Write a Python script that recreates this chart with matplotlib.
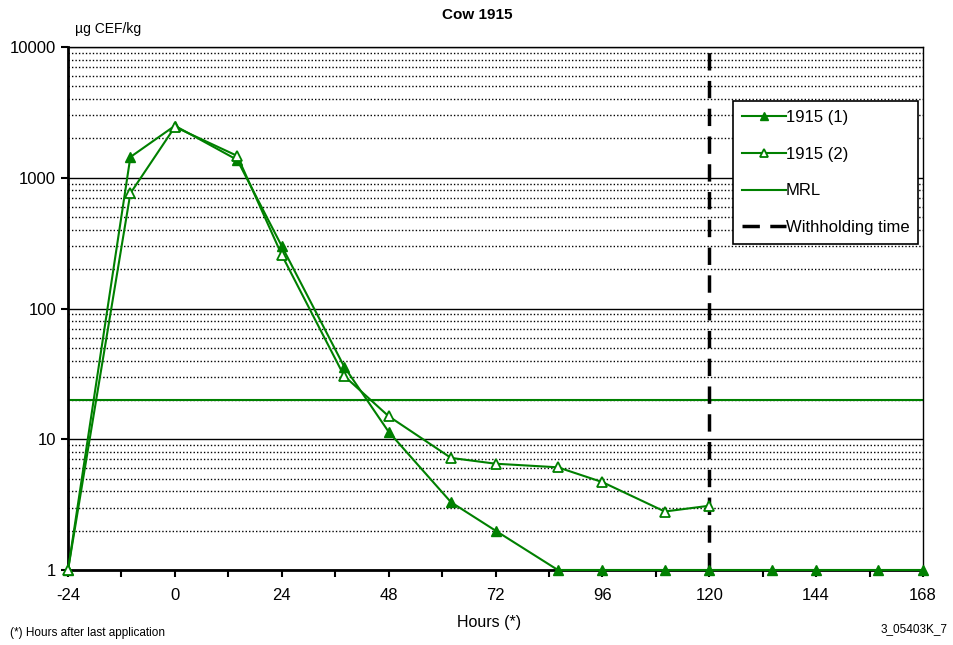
import matplotlib
matplotlib.use('Agg')
import matplotlib.pyplot as plt
from matplotlib.ticker import LogLocator, FixedLocator, NullFormatter

plt.rcParams['font.family'] = ['Liberation Sans', 'DejaVu Sans']
plt.rcParams['axes.unicode_minus'] = False

# hours after last application
hours1 = [-24, -10, 0, 14, 24, 38, 48, 62, 72, 86, 96, 110, 120, 134, 144, 158, 168]
conc1 = [1, 1440, 2500, 1370, 300, 36, 11.4, 3.3, 2.0, 1, 1, 1, 1, 1, 1, 1, 1]
hours2 = [-24, -10, 0, 14, 24, 38, 48, 62, 72, 86, 96, 110, 120]
conc2 = [1, 760, 2450, 1470, 257, 30.5, 15, 7.2, 6.5, 6.1, 4.7, 2.8, 3.1]
mrl = 20
withholding = 120
xticks = [-24, 0, 24, 48, 72, 96, 120, 144, 168]

green = '#008000'

fig = plt.figure(figsize=(9.54, 6.45), dpi=100)
ax = fig.add_axes([0.0713, 0.1163, 0.8962, 0.8108])

ax.set_yscale('log')
ax.set_xlim(-24, 168)
ax.set_ylim(1, 10000)

# grid: solid at decades, dotted at minor values
ax.yaxis.set_minor_locator(LogLocator(base=10, subs=range(2, 10)))
ax.yaxis.set_minor_formatter(NullFormatter())
ax.grid(True, which='major', axis='y', color='black', lw=1, ls='-')
ax.grid(True, which='minor', axis='y', color='black', lw=1, ls=(0, (1, 1.5)))
ax.set_axisbelow(True)

ax.axhline(mrl, color=green, lw=1.5, label='MRL', zorder=2)
ax.plot(hours1, conc1, '-^', color=green, lw=1.5, ms=7, label='1915 (1)',
        clip_on=False, zorder=4)
ax.plot(hours2, conc2, '-^', color=green, lw=1.5, ms=7, mfc='white', mew=1.3,
        label='1915 (2)', clip_on=False, zorder=5)
ax.axvline(withholding, color='black', lw=2.5, ls=(0, (5, 3)),
           label='Withholding time', zorder=3)

ax.xaxis.set_major_locator(FixedLocator(xticks))
ax.xaxis.set_minor_locator(FixedLocator(list(range(-24, 169, 12))))
ax.set_yticks([1, 10, 100, 1000, 10000])
ax.set_yticklabels(['1', '10', '100', '1000', '10000'])
ax.tick_params(axis='both', which='both', direction='out', labelsize=12,
               color='black')
ax.tick_params(axis='x', which='major', length=5, width=1.5, pad=8)
ax.tick_params(axis='x', which='minor', length=5, width=1.5)
ax.tick_params(axis='y', which='major', length=5, width=1.5)
ax.tick_params(axis='y', which='minor', length=0)

for side in ['left', 'bottom']:
    ax.spines[side].set_linewidth(2)
for side in ['top', 'right']:
    ax.spines[side].set_linewidth(1)

handles, labels = ax.get_legend_handles_labels()
order = [labels.index(n) for n in ['1915 (1)', '1915 (2)', 'MRL', 'Withholding time']]
leg = ax.legend([handles[i] for i in order], [labels[i] for i in order],
                loc='upper left', bbox_to_anchor=(0.778, 0.897),
                fontsize=12, frameon=True, fancybox=False, edgecolor='black',
                framealpha=1, borderpad=0.55, labelspacing=1.3,
                handlelength=2.6, handletextpad=0.0, borderaxespad=0,
                markerscale=0.75)
leg.get_frame().set_linewidth(1.2)

fig.text(0.5, 0.977, 'Cow 1915', ha='center', va='center', fontsize=11,
         fontweight='bold')
fig.text(0.079, 0.955, 'µg CEF/kg', ha='left', va='center', fontsize=10)
fig.text(0.513, 0.035, 'Hours (*)', ha='center', va='center', fontsize=11.5)
fig.text(0.011, 0.018, '(*) Hours after last application', ha='left',
         va='center', fontsize=8.5)
fig.text(0.993, 0.025, '3_05403K_7', ha='right', va='center', fontsize=8.5)

fig.savefig('out.png', dpi=100)
